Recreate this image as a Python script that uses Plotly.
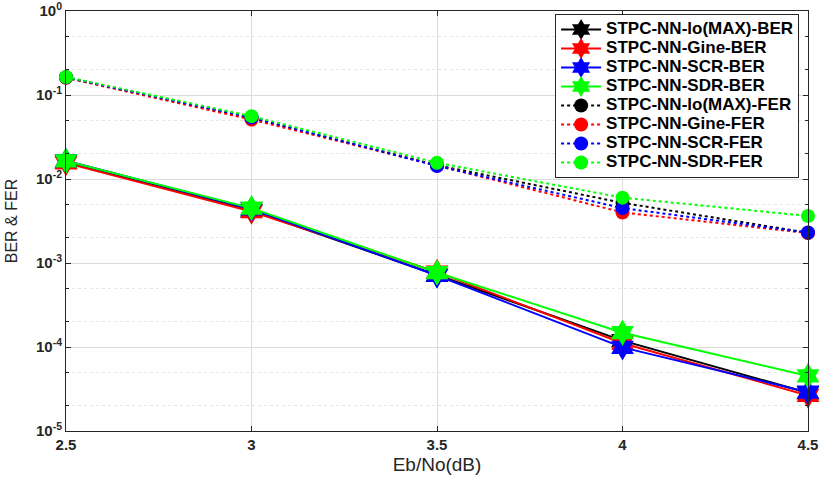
import plotly.graph_objects as go

# Eb/No points
ebno = [2.5, 3.0, 3.5, 4.0, 4.5]

# BER curves
ber_max = [0.0160, 0.0042, 0.00072, 0.000119, 0.0000285]
ber_gine = [0.0155, 0.0041, 0.00078, 0.000111, 0.0000265]
ber_scr = [0.0165, 0.0044, 0.00071, 0.0000990, 0.0000290]
ber_sdr = [0.0164, 0.0045, 0.00077, 0.000148, 0.0000452]

# FER curves
fer_max = [0.163, 0.053, 0.0146, 0.0052, 0.00229]
fer_gine = [0.160, 0.051, 0.0145, 0.0040, 0.00227]
fer_scr = [0.162, 0.054, 0.0143, 0.0045, 0.00230]
fer_sdr = [0.164, 0.056, 0.0156, 0.0060, 0.00363]

names = ['lo(MAX)', 'Gine', 'SCR', 'SDR']
colors = ['black', 'red', 'blue', '#00ff00']

# legend rows are sized from legend font (12px -> 19px rows), text drawn bigger
def lbl(s):
    return f'<span style="font-size:17px">{s}</span>'

fig = go.Figure()

for nm, col, ys in zip(names, colors, [ber_max, ber_gine, ber_scr, ber_sdr]):
    fig.add_trace(go.Scatter(
        x=ebno, y=ys, mode='lines+markers',
        name=lbl(f'STPC-NN-{nm}-BER'),
        line=dict(color=col, width=2),
        marker=dict(symbol='hexagram', size=20, color=col, line=dict(width=0)),
        cliponaxis=False,
    ))

for nm, col, ys in zip(names, colors, [fer_max, fer_gine, fer_scr, fer_sdr]):
    fig.add_trace(go.Scatter(
        x=ebno, y=ys, mode='lines+markers',
        name=lbl(f'STPC-NN-{nm}-FER'),
        line=dict(color=col, width=2, dash='dot'),
        marker=dict(symbol='circle', size=14, color=col, line=dict(width=0)),
        cliponaxis=False,
    ))

ytick_vals = [1, 0.1, 0.01, 0.001, 0.0001, 0.00001]
ytick_text = ['10<sup>0</sup>', '10<sup>-1</sup>', '10<sup>-2</sup>',
              '10<sup>-3</sup>', '10<sup>-4</sup>', '10<sup>-5</sup>']

fig.update_layout(
    width=820, height=477,
    paper_bgcolor='white', plot_bgcolor='white',
    margin=dict(l=66, r=12, t=11, b=46, autoexpand=False),
    font=dict(family='Liberation Sans, Arial, sans-serif', color='#262626'),
    legend=dict(
        x=0.988, y=0.993, xanchor='right', yanchor='top',
        bgcolor='white', bordercolor='#262626', borderwidth=1,
        font=dict(size=12, color='black', family='Liberation Sans, Arial, sans-serif', weight='bold'),
        tracegroupgap=0, itemwidth=40,
    ),
    xaxis=dict(
        title=dict(text='Eb/No(dB)', font=dict(size=19), standoff=5),
        range=[2.5, 4.5], tickvals=[2.5, 3, 3.5, 4, 4.5], ticktext=['2.5', '3', '3.5', '4', '4.5'],
        tickfont=dict(size=15, weight='bold'),
        automargin=False, ticklabeloverflow='allow',
        showgrid=True, gridcolor='#dcdcdc', gridwidth=1,
        showline=True, linecolor='#262626', linewidth=1, mirror='ticks',
        ticks='inside', ticklen=5, tickcolor='#262626',
        zeroline=False,
    ),
    yaxis=dict(
        type='log', range=[-5, 0],
        title=dict(text='BER & FER', font=dict(size=16), standoff=14),
        tickvals=ytick_vals, ticktext=ytick_text,
        tickfont=dict(size=15, weight='bold'),
        automargin=False, ticklabeloverflow='allow',
        showgrid=True, gridcolor='#dcdcdc', gridwidth=1,
        showline=True, linecolor='#262626', linewidth=1, mirror='ticks',
        ticks='inside', ticklen=5, tickcolor='#262626',
        minor=dict(showgrid=True, gridcolor='#e6e6e6', griddash='dot',
                   ticks='inside', ticklen=3, tickcolor='#262626'),
        zeroline=False,
    ),
)

fig.write_html("out.html", config={'displayModeBar': False},
               post_script="document.body.style.margin='0px';")
